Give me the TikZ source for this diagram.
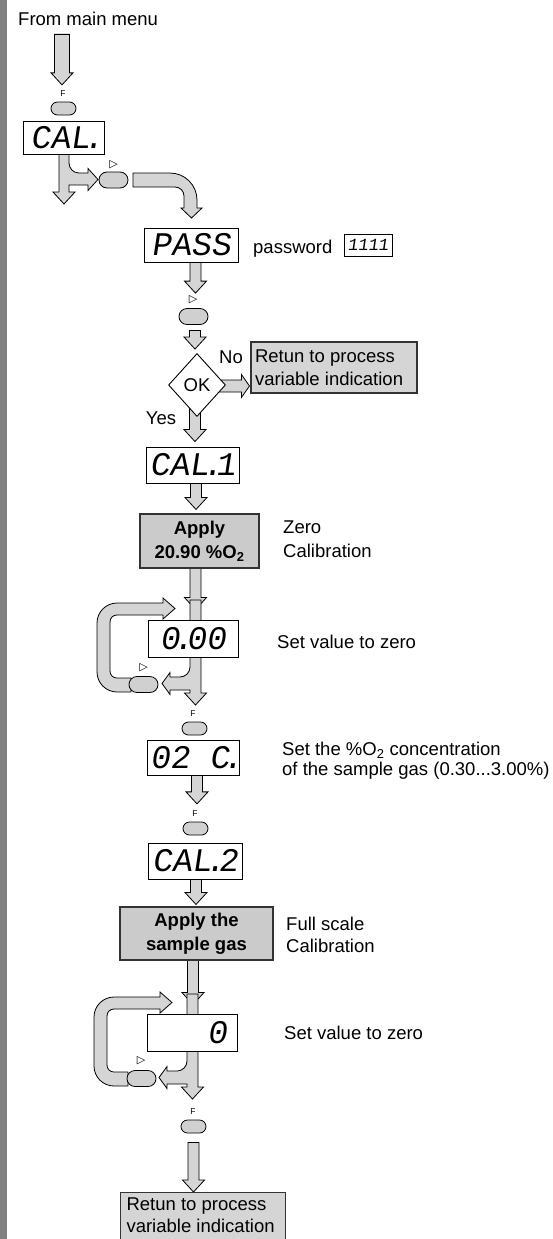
\documentclass[tikz,border=0pt]{standalone}
\usepackage{fontspec}
\setmainfont{Liberation Sans}
\newfontfamily\lcdfont[FakeSlant=0.15]{Liberation Mono}
\newfontfamily\symfont{DejaVu Sans}
\usetikzlibrary{shapes.geometric,calc,backgrounds}
\definecolor{BarGray}  {HTML}{808080}
\definecolor{ArrowGray}{HTML}{D5D5D5}
\definecolor{KeyGray}  {HTML}{D0D0D0}
\definecolor{ActGray}  {HTML}{CBCBCB}
\definecolor{MsgGray}  {HTML}{D5D5D5}
\newcommand{\lcdpt}{\kern-.2em.\kern-.2em\relax}
% block arrow going down: [shaft]{column x}{from}{to}
\newcommand{\blkdn}[4][11]{%
  \filldraw[blk] let \p1=(#3), \p2=(#4) in
    ({#2-#1/2},\y1) -- ({#2-#1/2},\y2+12pt) -- ({#2-11},\y2+12pt) -- (#2,\y2)
    -- ({#2+11},\y2+12pt) -- ({#2+#1/2},\y2+12pt) -- ({#2+#1/2},\y1) -- cycle;}
\tikzset{
  blk/.style={draw,fill=ArrowGray,line width=0.8pt,line join=miter},
  keyloop/.pic={
    % shaft through the display, branch to the key
    \filldraw[blk] (-5.5,-38.5) -- (-5.5,28.5) .. controls (-5.5,34) and (-10,38.5) .. (-15.5,38.5)
      -- (-25.5,38.5) -- (-25.5,34) -- (-33.5,45) -- (-25.5,56) -- (-25.5,51.5) -- (-5.5,51.5)
      -- (-5.5,54.5) -- (-11,54.5) -- (0,66.5) -- (11,54.5) -- (5.5,54.5) -- (5.5,-38.5) -- cycle;
    % return loop
    \filldraw[blk] (-64.5,53.5) -- (-78.5,53.5) .. controls (-89.5,53.5) and (-98.5,44.5) .. (-98.5,33.5)
      -- (-98.5,-15.5) .. controls (-98.5,-26.5) and (-89.5,-35.5) .. (-78.5,-35.5)
      -- (-32.5,-35.5) -- (-32.5,-40.5) -- (-20.5,-30) -- (-32.5,-19.5) -- (-32.5,-23.5)
      -- (-78.5,-23.5) .. controls (-82.5,-23.5) and (-85.5,-20.5) .. (-85.5,-16.5)
      -- (-85.5,32.5) .. controls (-85.5,36.5) and (-82.5,39.5) .. (-78.5,39.5)
      -- (-64.5,39.5) -- cycle;
  }
}
\begin{document}
\begin{tikzpicture}[x=1pt,y=-1pt,
    disp/.style={draw,fill=white,line width=0.9pt,inner sep=0pt,font=\lcdfont\fontsize{33}{33}\selectfont},
    btn/.style={draw,fill=KeyGray,line width=0.8pt,rounded corners=6.5pt,minimum width=25pt,minimum height=13pt,inner sep=0pt},
    btnw/.style={btn,rounded corners=8pt,minimum width=29pt,minimum height=16pt},
    flab/.style={inner sep=0pt,font=\fontsize{8.5}{9}\selectfont},
    tri/.style={inner sep=0pt,font=\symfont\fontsize{11}{11}\selectfont},
    act/.style={draw=black!80,fill=ActGray,line width=1.1pt,align=center,inner sep=0pt,font=\bfseries\fontsize{18.5}{24}\selectfont},
    msg/.style={draw=black!80,fill=MsgGray,line width=1.1pt,align=flush left,inner xsep=4pt,inner ysep=4pt,font=\fontsize{18.5}{23.5}\selectfont},
    note/.style={anchor=north west,align=left,inner sep=0pt,font=\fontsize{18.5}{24}\selectfont}
  ]
  \useasboundingbox (0,0) rectangle (553,1239);
  \node[note,anchor=base west] (from) at (18,26) {From main menu};
  \node[flab] (f1) at (63,94) {F};
  \node[btn] (k1) at (63.5,108.5) {};
  \node[disp,minimum width=81pt,minimum height=33pt] (cal) at (63.5,137.5) {CAL\lcdpt};
  \node[tri] (t1) at (113.5,165) {▷};
  \node[btnw] (k2) at (113.5,180) {};
  \node[disp,minimum width=94pt,minimum height=34pt] (pass) at (191,245) {PASS};
  \node[note,anchor=base west] (pw) at (253,253) {password};
  \node[disp,minimum width=48pt,minimum height=22pt,font=\lcdfont\fontsize{17}{17}\selectfont] (pwd) at (368,245) {1111};
  \node[tri] (t2) at (193,299.5) {▷};
  \node[btnw] (k3) at (193.5,316.5) {};
  \node[draw,diamond,fill=white,line width=0.9pt,minimum width=57pt,minimum height=63pt,inner sep=0pt,font=\fontsize{18.5}{22}\selectfont] (ok) at (197,385) {OK};
  \node[note,anchor=center] (no) at (231,357) {No};
  \node[msg,text width=158pt,minimum height=51pt] (ret1) at (334,367.5) {Retun to process\\variable indication};
  \node[note,anchor=center] (yes) at (161,418) {Yes};
  \node[disp,minimum width=93pt,minimum height=36pt] (cal1) at (192.5,465) {CAL\lcdpt 1};
  \node[act,minimum width=119pt,minimum height=54pt] (app1) at (199.5,541) {Apply\\20.90 \%O\textsubscript{2}};
  \node[note] (zc) at (283,520.5) {Zero\\Calibration};
  \node[disp,minimum width=90pt,minimum height=37pt] (z1) at (193,638.5) {0\lcdpt 00};
  \node[note,anchor=base west] (s1) at (277,648) {Set value to zero};
  \node[tri] (t3) at (143.5,667.5) {▷};
  \node[btnw] (k4) at (143.5,684.5) {};
  \node[flab] (f2) at (193,713.5) {F};
  \node[btn] (k5) at (194.5,728.5) {};
  \node[disp,minimum width=92pt,minimum height=35pt] (o2c) at (193,757.5) {02 C\lcdpt};
  \node[note,font=\fontsize{18.5}{20}\selectfont] (conc) at (282,741.5) {Set the \%O\textsubscript{2} concentration\\of the sample gas (0.30...3.00\%)};
  \node[flab] (f3) at (195,814) {F};
  \node[btn] (k6) at (195.5,828.5) {};
  \node[disp,minimum width=94pt,minimum height=36pt] (cal2) at (195,861) {CAL\lcdpt 2};
  \node[act,minimum width=153pt,minimum height=53pt] (app2) at (196.5,933.5) {Apply the\\sample gas};
  \node[note,font=\fontsize{18.5}{22.5}\selectfont] (fs) at (286,916.5) {Full scale\\Calibration};
  \node[disp,minimum height=37pt,text width=70pt,align=right,inner xsep=10pt] (z2) at (192,1032.5) {0};
  \node[note,anchor=base west] (s2) at (284,1039) {Set value to zero};
  \node[tri] (t4) at (141,1061) {▷};
  \node[btnw] (k7) at (141.5,1078.5) {};
  \node[flab] (f4) at (193,1111.5) {F};
  \node[btn] (k8) at (193.5,1126.5) {};
  \node[msg,anchor=north west,text width=153pt,inner xsep=6pt,inner ysep=5pt,font=\fontsize{18.5}{22}\selectfont] (ret2) at (120,1192) {Retun to process\\variable indication\rule[-20pt]{0pt}{0pt}};
  \begin{scope}[on background layer]
    \fill[BarGray] (0,0) rectangle (7,1239);
    \blkdn[15]{62}{$(from.south)+(0,8)$}{$(f1.north)+(0,-6)$}
    % CAL. : down, or right to the key
    \filldraw[blk] (59,150) -- (59,192) -- (53,192) -- (64,204) -- (75,192) -- (69,192) -- (69,185)
      -- (88,185) -- (88,190.5) -- (98,179.5) -- (88,168.5) -- (88,173) -- (79,173)
      .. controls (73.5,173) and (69,168.5) .. (69,163) -- (69,150) -- cycle;
    % key to PASS
    \filldraw[blk] (133,173) -- (170,173) .. controls (184.9,173) and (197,185.1) .. (197,200)
      -- (197,208) -- (202,208) -- (191.5,218) -- (181,208) -- (184,208) -- (184,196)
      .. controls (184,191) and (180,187) .. (175,187) -- (133,187) -- cycle;
    \blkdn{195.5}{$(pass.south)+(0,-2)$}{$(k3.north)+(0,-15)$}
    \blkdn{195}{$(k3.south)+(0,5.5)$}{$(ok.north)+(0,-4)$}
    \filldraw[blk] let \p1=(ok.east), \p2=(ret1.west) in
      (\x1-8pt,\y1+5pt) -- (\x2-9pt,\y1+5pt) -- (\x2-9pt,\y1+10.5pt) -- (\x2-1pt,\y1-1pt)
      -- (\x2-9pt,\y1-12.5pt) -- (\x2-9pt,\y1-7pt) -- (\x1-8pt,\y1-7pt) -- cycle;
    \blkdn{195}{$(ok.south)+(0,-12)$}{$(cal1.north)+(0,-5)$}
    \blkdn{196}{$(cal1.south)+(0,-2)$}{$(app1.north)+(0,-4)$}
    \blkdn{195.5}{$(app1.south)+(0,-2)$}{$(z1.north)+(0,-10)$}
    \pic at ($(z1.center)+(2.5,0)$) {keyloop};
    \blkdn{197}{$(o2c.south)+(0,-2)$}{$(f3.north)+(0,-7)$}
    \blkdn{196}{$(cal2.south)+(0,-2)$}{$(app2.north)+(0,-2)$}
    \blkdn{193}{$(app2.south)+(0,-2)$}{$(z2.north)+(0,-9)$}
    \pic at ($(z2.center)+(0.5,0)$) {keyloop};
    \blkdn{193.5}{$(k8.south)+(0,9)$}{ret2.north}
  \end{scope}
\end{tikzpicture}
\end{document}
